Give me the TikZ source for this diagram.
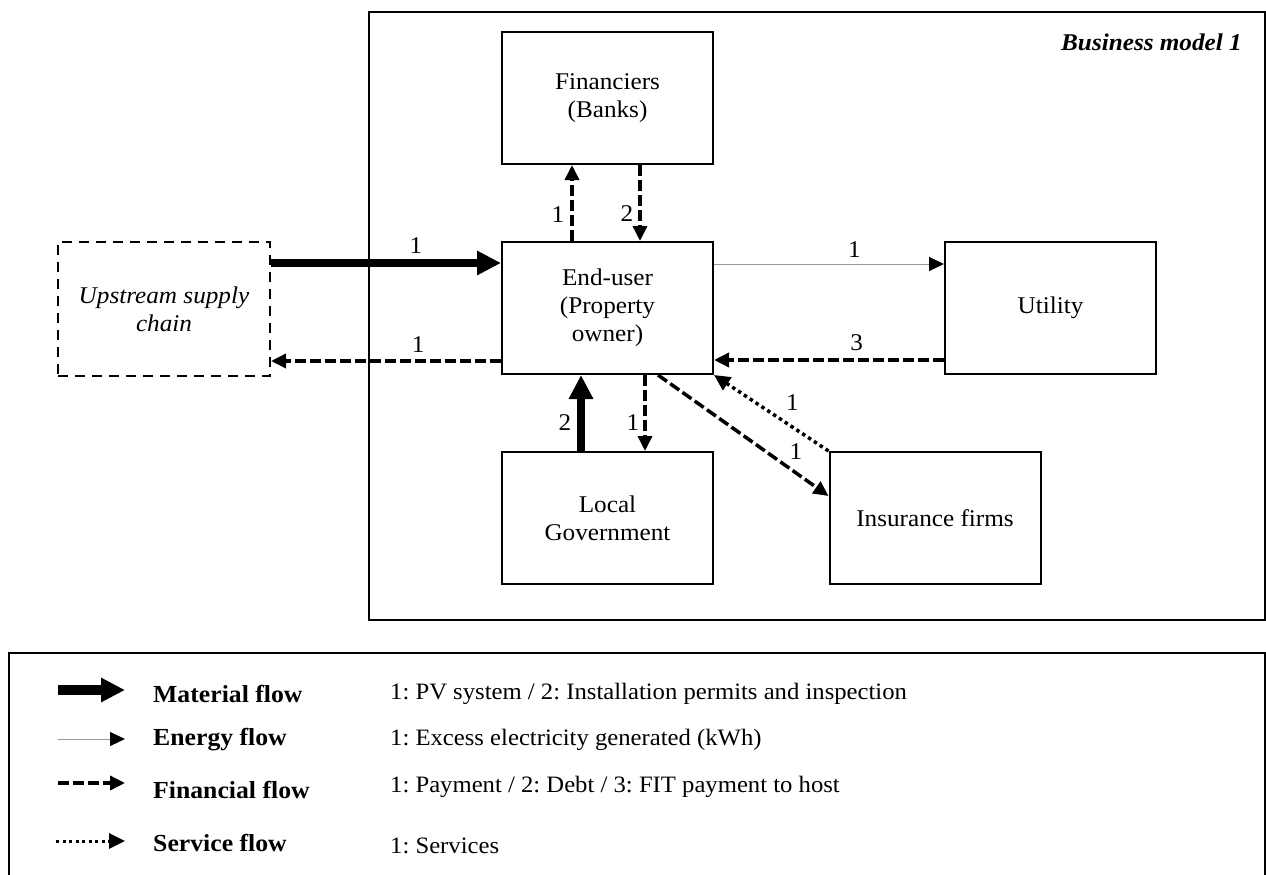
\documentclass[tikz,border=0pt]{standalone}
\usepackage{fontspec}
\setmainfont{Liberation Serif}[FakeStretch=1.05]
\usetikzlibrary{arrows.meta}

\begin{document}
\frenchspacing
\begin{tikzpicture}[x=1pt,y=-1pt,
  txt/.style={font=\fontsize{24}{28}\selectfont, inner sep=0pt},
  actor/.style={txt, draw, line width=2pt, minimum width=211pt,
                minimum height=132pt, align=center},
  frame/.style={line width=2.5pt},
  num/.style={txt, anchor=center},
  material/.style={line width=8pt, -{Triangle[length=24pt,width=23pt]}},
  energy/.style={line width=1pt, draw=black!40,
                 -{Triangle[length=15pt,width=14pt,color=black]}},
  financial/.style={line width=3.5pt, dash pattern=on 11pt off 4pt,
                    -{Triangle[length=15pt,width=14pt]}},
  service/.style={line width=3.5pt, dash pattern=on 3.5pt off 3.5pt,
                  -{Triangle[length=16pt,width=15pt]}},
  key/.style={txt, anchor=west, font=\fontsize{24.5}{28}\selectfont\bfseries},
  note/.style={txt, anchor=west, font=\fontsize{23.5}{28}\selectfont}
]
\useasboundingbox (0,0) rectangle (1266,875);

% Business model frame
\draw[frame] (369,12) rectangle (1265,620);
\node[txt, anchor=east, font=\fontsize{24}{28}\selectfont\bfseries\itshape]
  (title) at (1242,42) {Business model 1};

% Actors
\node[actor] (fin)  at (607.5,98)  {Financiers\\(Banks)};
\node[actor] (eu)   at (607.5,308) {End-user\\(Property\\owner)};
\node[actor] (util) at (1050.5,308) {Utility};
\node[actor] (gov)  at (607.5,518) {Local\\Government};
\node[actor] (ins)  at (935,518)   {Insurance firms};
\node[txt, draw, line width=2pt, dash pattern=on 10pt off 7pt,
      minimum width=212pt, minimum height=134pt, align=center,
      font=\fontsize{24}{28}\selectfont\itshape]
  (up) at (164,309) {Upstream supply\\chain};

% Flows between actors
\draw[material] (up.east |- 0,263) -- (eu.west |- 0,263)
  node[num, pos=0.63, yshift=17pt] {1};
\draw[financial] (eu.west |- 0,361) -- (up.east |- 0,361)
  node[num, pos=0.36, yshift=16pt] {1};

\draw[financial] (eu.north -| 572,0) -- (fin.south -| 572,0)
  node[num, pos=0.35, xshift=-14pt] {1};
\draw[financial] (fin.south -| 640,0) -- (eu.north -| 640,0)
  node[num, pos=0.64, xshift=-13pt] {2};

\draw[energy] (eu.east |- 0,264) -- (util.west |- 0,264)
  node[num, pos=0.61, yshift=14pt] {1};
\draw[financial] (util.west |- 0,360) -- (eu.east |- 0,360)
  node[num, pos=0.38, yshift=17pt] {3};

\draw[material] (gov.north -| 581,0) -- (eu.south -| 581,0)
  node[num, pos=0.37, xshift=-16pt] {2};
\draw[financial] (eu.south -| 645,0) -- (gov.north -| 645,0)
  node[num, pos=0.63, xshift=-12pt] {1};

\draw[service] (ins.north west) -- (eu.south east)
  node[num, pos=0.42, xshift=12pt, yshift=17pt] {1};
\draw[financial] (eu.south -| 658,0) -- (ins.west |- 0,496)
  node[num, pos=0.75, xshift=10pt, yshift=14pt] {1};

% Legend
\draw[frame] (9,880) |- (1265,653) -- (1265,880);

\coordinate (m0) at (58,690);  \coordinate (m1) at (125,690);
\coordinate (e0) at (58,739);  \coordinate (e1) at (125,739);
\coordinate (f0) at (58,783);  \coordinate (f1) at (125,783);
\coordinate (s0) at (56,841);  \coordinate (s1) at (125,841);

\draw[material, line width=10pt] (m0) -- (m1);
\draw[energy] (e0) -- (e1);
\draw[financial] (f0) -- (f1);
\draw[service, line width=3pt, dash pattern=on 3pt off 3.5pt] (s0) -- (s1);

\node[key] (km) at (153,694) {Material flow};
\node[key] (ke) at (153,740) {Energy flow};
\node[key] (kf) at (153,790) {Financial flow};
\node[key] (ks) at (153,843) {Service flow};

\node[note] (nm) at (390,694) {1: PV system / 2: Installation permits and inspection};
\node[note] (ne) at (390,740) {1: Excess electricity generated (kWh)};
\node[note] (nf) at (390,787) {1: Payment / 2: Debt / 3: FIT payment to host};
\node[note] (ns) at (390,846) {1: Services};
\end{tikzpicture}
\end{document}
